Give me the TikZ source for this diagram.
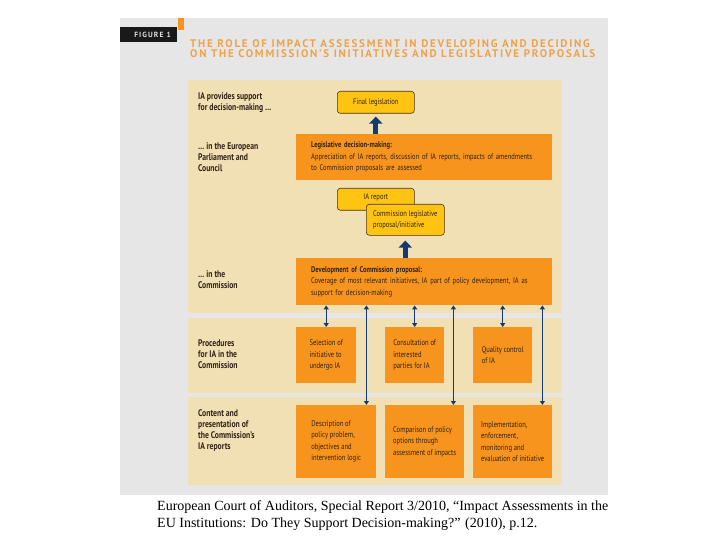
\documentclass[tikz,border=0pt]{standalone}
\usepackage{fontspec}
\setmainfont{Liberation Serif}
\newfontfamily\condfont[FakeStretch=0.8]{PT Sans}
\newfontfamily\titlefont[LetterSpace=16]{PT Sans}
\newfontfamily\figfont[LetterSpace=15]{PT Sans}
\usetikzlibrary{arrows.meta,positioning}
\definecolor{bggray}{RGB}{230,230,230}
\definecolor{beige}{RGB}{241,224,180}
\definecolor{iaorange}{RGB}{246,148,30}
\definecolor{iayellow}{RGB}{255,196,18}
\definecolor{navy}{RGB}{22,58,112}
\definecolor{titleorange}{RGB}{240,162,72}
\definecolor{darktext}{RGB}{50,35,25}
\tikzset{
	band/.style={fill=beige, draw=none},
	sidelabel/.style={anchor=west, align=left, inner sep=0pt, text=darktext, font=\condfont\bfseries\fontsize{9.6}{11}\selectfont},
	orangebox/.style={fill=iaorange, draw=none, anchor=north west, align=left, text=darktext, inner ysep=0pt, inner xsep=2pt, font=\condfont\fontsize{8.2}{11.5}\selectfont},
	yellowbox/.style={fill=iayellow, draw=black!60!brown, line width=0.6pt, rounded corners=3pt, anchor=north west, align=left, text=darktext, font=\condfont\fontsize{8.2}{11}\selectfont},
	bigarrow/.style={-{Triangle[length=7pt, width=13pt]}, line width=5pt, navy},
	twoway/.style={{Triangle[length=4pt, width=5pt]}-{Triangle[length=4pt, width=5pt]}, line width=1.1pt, navy}
}
\begin{document}
\begin{tikzpicture}[x=1pt, y=-1pt]
	\useasboundingbox[fill=white] (0,0) rectangle (720,540);
	% frame and header
	\fill[bggray] (120,18) rectangle (608,495);
	\fill[black!90] (120,27) rectangle (177,42);
	\fill[iaorange] (178,18) rectangle (184,30);
	\node[anchor=east, inner sep=0pt, text=black!12, font=\figfont\bfseries\fontsize{7.5}{8}\selectfont] (fig) at (171,34.5) {FIGURE 1};
	\node[anchor=north west, inner sep=0pt, align=left, text=titleorange, font=\titlefont\bfseries\fontsize{11}{10.5}\selectfont] (title) at (190,39) {THE ROLE OF IMPACT ASSESSMENT IN DEVELOPING AND DECIDING\\ON THE COMMISSION’S INITIATIVES AND LEGISLATIVE PROPOSALS};
	% bands
	\fill[band] (188,80) rectangle (562,313);
	\fill[band] (188,318) rectangle (562,393);
	\fill[band] (188,397) rectangle (562,485);
	% side labels
	\node[sidelabel] (lab1) at (198,102.5) {IA provides support\\for decision-making \dots};
	\node[sidelabel] (lab2) at (198,157.5) {\dots\ in the European\\Parliament and\\Council};
	\node[sidelabel] (lab3) at (198,280) {\dots\ in the\\Commission};
	\node[sidelabel] (lab4) at (198,354) {Procedures\\for IA in the\\Commission};
	\node[sidelabel] (lab5) at (198,431) {Content and\\presentation of\\the Commission’s\\IA reports};
	% upper boxes
	\node[yellowbox, minimum width=77pt, minimum height=22pt, align=center] (final) at (337,91) {Final legislation};
	\node[orangebox, minimum height=46pt, text width=226pt, inner xsep=15pt] (legis) at (296,134) {\textbf{Legislative decision-making:}\\Appreciation of IA reports, discussion of IA reports, impacts of amendments\\to Commission proposals are assessed};
	\node[yellowbox, minimum width=77pt, minimum height=22pt, align=center, text depth=6pt] (report) at (337,188) {IA report};
	\node[yellowbox, minimum width=78pt, minimum height=31pt, inner xsep=4pt] (proposal) at (366,204) {Commission legislative\\proposal/initiative};
	\node[orangebox, minimum height=47pt, text width=226pt, inner xsep=15pt] (develop) at (296,258) {\textbf{Development of Commission proposal:}\\Coverage of most relevant initiatives, IA part of policy development, IA as\\support for decision-making};
	% procedures
	\node[orangebox, minimum width=60pt, minimum height=56pt] (select) at (296,327) {Selection of\\initiative to\\undergo IA};
	\node[orangebox, minimum width=59pt, minimum height=56pt] (consult) at (385,327) {Consultation of\\interested\\parties for IA};
	\node[orangebox, minimum width=59pt, minimum height=56pt] (quality) at (473,327) {Quality control\\of IA};
	% content of reports
	\node[orangebox, minimum width=80pt, minimum height=73pt] (descr) at (296,405) {Description of\\policy problem,\\objectives and\\intervention logic};
	\node[orangebox, minimum width=79pt, minimum height=73pt] (compare) at (385,405) {Comparison of policy\\options through\\assessment of impacts};
	\node[orangebox, minimum width=79pt, minimum height=73pt] (implem) at (473,405) {Implementation,\\enforcement,\\monitoring and\\evaluation of initiative};
	% arrows
	\draw[bigarrow] (legis.north -| final.south) -- ([yshift=-3pt]final.south);
	\draw[bigarrow] (develop.north -| proposal.south) -- ([yshift=-5pt]proposal.south);
	\foreach \b in {select,consult,quality}
		\draw[twoway] (\b.north |- develop.south) -- (\b.north);
	\coordinate (d1) at ([xshift=-10pt]descr.north east);
	\coordinate (d2) at ([xshift=-11pt]compare.north east);
	\coordinate (d3) at ([xshift=-10pt]implem.north east);
	\foreach \c in {d1,d2,d3}
		\draw[twoway] (\c |- develop.south) -- (\c);
	% source
	\node[anchor=north west, inner sep=0pt, align=left, font=\fontsize{14}{17}\selectfont] (source) at (157,500) {European Court of Auditors, Special Report 3/2010, “Impact Assessments in the\\EU Institutions: Do They Support Decision-making?” (2010), p.12.};
\end{tikzpicture}
\end{document}
